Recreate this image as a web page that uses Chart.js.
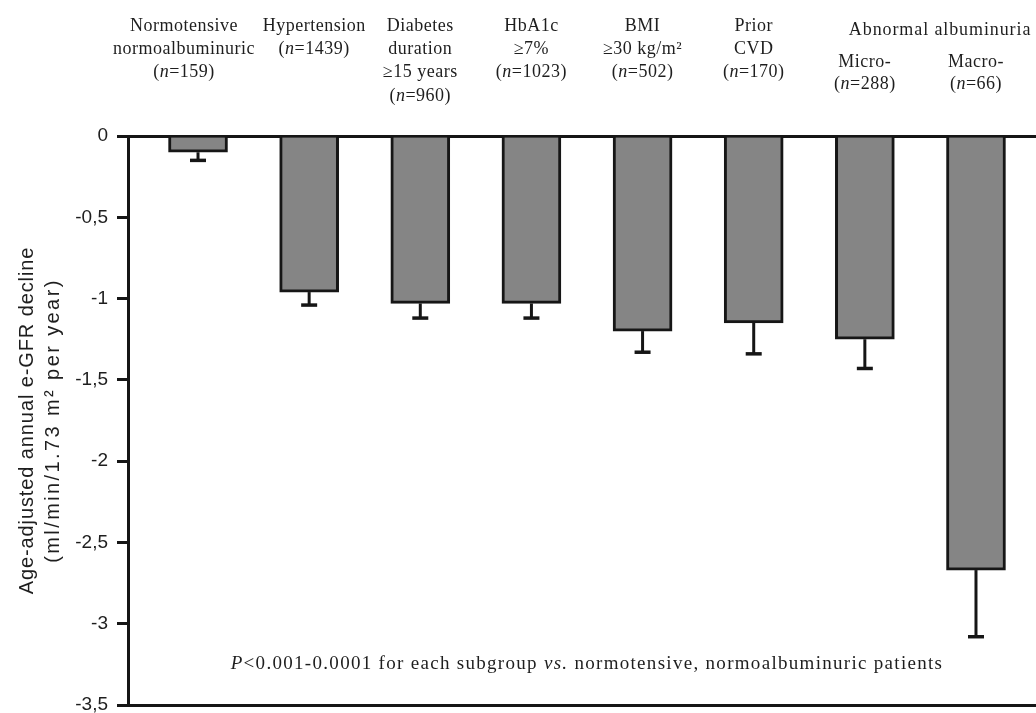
<!DOCTYPE html>
<html>
<head>
<meta charset="utf-8">
<script src="https://cdn.jsdelivr.net/npm/chart.js@4.4.1/dist/chart.umd.min.js"></script>
<style>
  html, body { margin: 0; padding: 0; background: #ffffff; }
  #wrap { width: 1036px; height: 713px; position: relative; }
</style>
</head>
<body>
<div id="wrap"><canvas id="chart" width="1036" height="713"></canvas></div>
<script>
// Subgroup headers (one entry per bar, one string per line; *...* marks italic)
const categories = [
  ['Normotensive', 'normoalbuminuric', '(*n*=159)'],
  ['Hypertension', '(*n*=1439)'],
  ['Diabetes', 'duration', '≥15 years', '(*n*=960)'],
  ['HbA1c', '≥7%', '(*n*=1023)'],
  ['BMI', '≥30 kg/m²', '(*n*=502)'],
  ['Prior', 'CVD', '(*n*=170)'],
  ['Micro-', '(*n*=288)'],
  ['Macro-', '(*n*=66)']
];
const groupLabel = 'Abnormal albuminuria';

// Age-adjusted annual e-GFR decline and its error (lower whisker)
const declineValues = [-0.10, -0.96, -1.03, -1.03, -1.20, -1.15, -1.25, -2.67];
const declineErrors = [0.05, 0.08, 0.09, 0.09, 0.13, 0.19, 0.18, 0.41];

// Y axis ticks
const yTickValues = [0, -0.5, -1, -1.5, -2, -2.5, -3, -3.5];
const yTickLabels = ['0', '-0,5', '-1', '-1,5', '-2', '-2,5', '-3', '-3,5'];

const yTitle = ['Age-adjusted annual e-GFR decline', '(ml/min/1.73 m² per year)'];
const footnote = '*P*<0.001-0.0001 for each subgroup *vs.* normotensive, normoalbuminuric patients';

const INK = '#161616';
const TEXT = '#1e1e1e';
const SERIF = '"Liberation Serif", "Times New Roman", serif';
const SANS = '"Liberation Sans", Arial, sans-serif';

// Draw a string where *...* segments are italic, centred or left-aligned at x
function drawRich(ctx, str, x, y, size, family, align, spacing) {
  const parts = str.split('*');
  ctx.letterSpacing = spacing + 'px';
  const fontFor = (i) => (i % 2 === 1 ? 'italic ' : '') + size + 'px ' + family;
  let total = 0;
  parts.forEach((p, i) => { ctx.font = fontFor(i); total += ctx.measureText(p).width; });
  let cx = align === 'center' ? x - total / 2 : x;
  ctx.textAlign = 'left';
  ctx.textBaseline = 'middle';
  parts.forEach((p, i) => {
    ctx.font = fontFor(i);
    ctx.fillText(p, cx, y);
    cx += ctx.measureText(p).width;
  });
  ctx.letterSpacing = '0px';
}

// Lower error whiskers under each bar
const errorBars = {
  id: 'errorBars',
  afterDatasetsDraw(chart) {
    const ctx = chart.ctx;
    const ys = chart.scales.y;
    const meta = chart.getDatasetMeta(0);
    ctx.save();
    ctx.strokeStyle = INK;
    ctx.lineCap = 'butt';
    meta.data.forEach((bar, i) => {
      const y0 = ys.getPixelForValue(declineValues[i]);
      const y1 = ys.getPixelForValue(declineValues[i] - declineErrors[i]);
      ctx.lineWidth = 3;
      ctx.beginPath();
      ctx.moveTo(bar.x, y0);
      ctx.lineTo(bar.x, y1);
      ctx.stroke();
      ctx.lineWidth = 3.5;
      ctx.beginPath();
      ctx.moveTo(bar.x - 8, y1);
      ctx.lineTo(bar.x + 8, y1);
      ctx.stroke();
    });
    ctx.restore();
  }
};

// Column headers, rotated y-axis title and the footnote
const annotations = {
  id: 'annotations',
  afterDraw(chart) {
    const ctx = chart.ctx;
    const xs = chart.scales.x;
    const ys = chart.scales.y;
    const area = chart.chartArea;
    const top = area.top;
    const rowGap = 23.3;
    const shift = [-14, 5, 0, 0, 0, 0, 0, 0];
    ctx.save();
    ctx.fillStyle = TEXT;
    categories.forEach((lines, i) => {
      const cx = xs.getPixelForValue(i) + shift[i];
      const firstRow = i >= 6 ? top - 74 : top - 110;
      const gap = i >= 6 ? 22 : rowGap;
      lines.forEach((line, k) => {
        drawRich(ctx, line, cx, firstRow + k * gap, 18, SERIF, 'center', 0.5);
      });
    });
    drawRich(ctx, groupLabel, xs.getPixelForValue(6) - 16, top - 106, 18, SERIF, 'left', 0.9);
    drawRich(ctx, footnote, xs.getPixelForValue(3.5), ys.getPixelForValue(-3.25), 19, SERIF, 'center', 1.3);

    // y-axis title, two rotated lines centred on the plot height
    const midY = (area.top + area.bottom) / 2;
    const titleX = [27, 53];
    const titleSpacing = [0.9, 2.4];
    yTitle.forEach((line, k) => {
      ctx.save();
      ctx.translate(titleX[k], midY);
      ctx.rotate(-Math.PI / 2);
      ctx.letterSpacing = titleSpacing[k] + 'px';
      ctx.font = '20px ' + SANS;
      ctx.textAlign = 'center';
      ctx.textBaseline = 'middle';
      ctx.fillText(line, 0, 0);
      ctx.restore();
    });
    ctx.restore();
  }
};

const tickLabelFor = (v) => {
  const k = yTickValues.findIndex(t => Math.abs(t - v) < 1e-6);
  return k >= 0 ? yTickLabels[k] : '';
};

new Chart(document.getElementById('chart'), {
  type: 'bar',
  data: {
    datasets: [{
      data: declineValues.map((v, i) => ({ x: i, y: v })),
      backgroundColor: '#858585',
      borderColor: INK,
      borderWidth: 3,
      barThickness: 59
    }]
  },
  options: {
    responsive: false,
    animation: false,
    devicePixelRatio: 1,
    layout: { padding: { top: 136, bottom: 8, left: 0, right: 0 } },
    plugins: { legend: { display: false }, tooltip: { enabled: false } },
    scales: {
      x: {
        type: 'linear',
        min: -0.63,
        max: 7.54,
        offset: false,
        afterFit(scale) { scale.height = 0; },
        ticks: { display: false },
        grid: { display: false, drawTicks: false },
        border: { display: true, width: 3, color: INK }
      },
      y: {
        min: -3.5,
        max: 0,
        afterFit(scale) {
          scale.width = 128;
          scale.paddingTop = 0;
          scale.paddingBottom = 0;
        },
        afterBuildTicks(scale) {
          scale.ticks = yTickValues.slice().reverse().map(v => ({ value: v }));
        },
        ticks: {
          padding: 9,
          color: TEXT,
          font: { family: SANS, size: 19 },
          callback: (v) => tickLabelFor(v)
        },
        grid: {
          color: (c) => (c.tick && Math.abs(c.tick.value) < 1e-9 ? INK : 'rgba(0,0,0,0)'),
          tickColor: INK,
          lineWidth: 3,
          tickLength: 11
        },
        border: { display: true, width: 3, color: INK },
        title: { display: false }
      }
    }
  },
  plugins: [errorBars, annotations]
});
</script>
</body>
</html>
